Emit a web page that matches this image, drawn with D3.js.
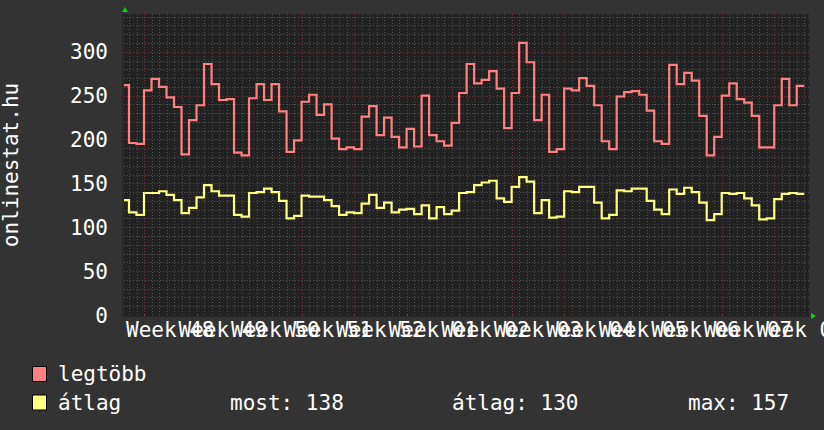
<!DOCTYPE html>
<html>
<head>
<meta charset="utf-8">
<script src="https://cdn.jsdelivr.net/npm/d3@7"></script>
<style>
  body { margin: 0; background: #333333; }
  text { font-family: "DejaVu Sans Mono", monospace; fill: #ffffff; }
</style>
</head>
<body>
<div class="chart"></div>
<script>
// daily values, first day = 2016-11-25 (UTC)
const firstDay = new Date(Date.UTC(2016, 10, 25))
const legtobb = [262,196,195,256,269,260,248,237,183,222,239,286,263,245,246,185,182,247,263,245,
  263,232,186,199,243,251,228,240,201,189,191,189,226,238,205,225,203,191,212,192,
  250,205,198,193,219,253,286,264,268,278,258,213,253,310,288,222,251,186,189,258,
  256,270,261,239,198,189,249,254,255,251,233,198,195,285,263,276,267,227,182,203,
  250,264,246,242,227,191,191,239,269,239,261]
const atlag = [131,117,114,139,139,141,137,131,116,122,134,148,141,136,136,114,112,139,140,144,
  140,130,110,113,136,135,135,131,124,114,117,116,127,137,122,128,117,120,121,115,
  125,110,123,115,119,139,140,148,151,153,133,129,146,157,152,116,131,111,112,141,
  140,146,146,128,110,114,142,141,144,144,130,120,115,143,138,145,140,128,108,115,
  139,138,139,133,125,109,110,132,138,139,138]
const yTicks = [0, 50, 100, 150, 200, 250, 300]
const seriesNames = ["legtöbb", "átlag"]
const colors = {"legtöbb": "#ff8080", "átlag": "#ffff80"}
const yLabel = "onlinestat.hu"

const W = 824, H = 430
const plot = {left: 124, right: 809, top: 14, bottom: 315}

const svg = d3.select(".chart").selectAll("svg").data([0]).join("svg")
  .attr("width", W).attr("height", H)

svg.append("rect").attr("width", W).attr("height", H).attr("fill", "#333333")
svg.append("rect")
  .attr("x", plot.left).attr("y", plot.top)
  .attr("width", plot.right - plot.left).attr("height", plot.bottom - plot.top + 1)
  .attr("fill", "#222222")

// scales
const tStart = new Date(Date.UTC(2016, 10, 25, 8, 0))
const tEnd = new Date(Date.UTC(2017, 1, 24, 15, 10))
const xScale = d3.scaleUtc().domain([tStart, tEnd]).range([plot.left, plot.right])
const yScale = d3.scaleLinear().domain([0, 343]).range([plot.bottom, plot.top])

// grid
const grid = svg.append("g").attr("class", "grid")
grid.selectAll(".hminor").data(d3.range(0, 341, 10).filter(v => v % 50 !== 0)).join("line")
  .attr("x1", plot.left).attr("x2", plot.right)
  .attr("y1", d => Math.round(yScale(d)) + 0.5).attr("y2", d => Math.round(yScale(d)) + 0.5)
  .attr("stroke", "#555555").attr("stroke-dasharray", "1,2")
grid.selectAll(".vminor").data(xScale.ticks(d3.utcDay.every(1)).filter(d => d.getUTCDay() !== 1)).join("line")
  .attr("x1", d => Math.round(xScale(d)) + 0.5).attr("x2", d => Math.round(xScale(d)) + 0.5)
  .attr("y1", plot.top).attr("y2", plot.bottom)
  .attr("stroke", "#555555").attr("stroke-dasharray", "1,2")
grid.selectAll(".hmajor").data(yTicks.filter(v => v > 0)).join("line")
  .attr("x1", plot.left).attr("x2", plot.right)
  .attr("y1", d => Math.round(yScale(d)) + 0.5).attr("y2", d => Math.round(yScale(d)) + 0.5)
  .attr("stroke", "#7a3a3a").attr("stroke-dasharray", "1,2")
const mondays = xScale.ticks(d3.utcMonday.every(1))
grid.selectAll(".vmajor").data(mondays).join("line")
  .attr("x1", d => Math.round(xScale(d)) + 0.5).attr("x2", d => Math.round(xScale(d)) + 0.5)
  .attr("y1", plot.top).attr("y2", plot.bottom)
  .attr("stroke", "#7a3a3a").attr("stroke-dasharray", "1,2")
grid.selectAll(".vtick").data(mondays).join("line")
  .attr("x1", d => Math.round(xScale(d)) + 0.5).attr("x2", d => Math.round(xScale(d)) + 0.5)
  .attr("y1", plot.bottom - 1).attr("y2", plot.bottom + 2)
  .attr("stroke", "#a03c3c")

// axes lines and arrows
svg.append("line").attr("x1", plot.left - 1).attr("x2", plot.left - 1)
  .attr("y1", plot.top - 2).attr("y2", plot.bottom + 1)
  .attr("stroke", "#2a2a2a").attr("stroke-width", 2)
svg.append("line").attr("x1", plot.left - 2).attr("x2", plot.right + 2)
  .attr("y1", plot.bottom + 1.5).attr("y2", plot.bottom + 1.5)
  .attr("stroke", "#2a2a2a").attr("stroke-width", 1)
svg.append("path")
  .attr("d", `M${plot.left - 2},${plot.top - 2} L${plot.left + 4},${plot.top - 2} L${plot.left + 1},${plot.top - 7} Z`)
  .attr("fill", "#00dd00")
svg.append("path")
  .attr("d", `M${plot.right + 2},${plot.bottom - 2} L${plot.right + 2},${plot.bottom + 4} L${plot.right + 7},${plot.bottom + 1} Z`)
  .attr("fill", "#00dd00")

// y tick labels
svg.selectAll(".ylab").data(yTicks).join("text")
  .attr("class", "ylab")
  .attr("x", 108).attr("y", d => yScale(d) + 7.5)
  .attr("text-anchor", "end").attr("font-size", 21)
  .text(d => d)

// week labels centered mid-week
const fmtWeek = d3.utcFormat("Week %V")
const weekStarts = d3.utcMonday.range(d3.utcDay.offset(tStart, -7), tEnd)
  .filter(d => {
    const c = xScale(d3.utcHour.offset(d, 84))
    return c >= plot.left && c <= plot.right
  })
svg.selectAll(".xlab").data(weekStarts).join("text")
  .attr("class", "xlab")
  .attr("x", d => xScale(d3.utcHour.offset(d, 84)))
  .attr("y", 337)
  .attr("text-anchor", "middle").attr("font-size", 21)
  .attr("xml:space", "preserve")
  .text(d => fmtWeek(d))

// y axis title
svg.append("text")
  .attr("transform", "translate(18,165) rotate(-90)")
  .attr("text-anchor", "middle").attr("font-size", 21)
  .text(yLabel)

// lines
svg.append("clipPath").attr("id", "plotclip").append("rect")
  .attr("x", plot.left).attr("y", plot.top - 2)
  .attr("width", plot.right - plot.left).attr("height", plot.bottom - plot.top + 4)

function toPoints(values) {
  const pts = values.map((v, i) => ({t: d3.utcDay.offset(firstDay, i), v: v}))
  pts.push({t: d3.utcDay.offset(firstDay, values.length), v: values[values.length - 1]})
  return pts
}
const lineGen = d3.line()
  .x(d => xScale(d.t))
  .y(d => yScale(d.v))
  .curve(d3.curveStepAfter)

const series = [{name: "legtöbb", values: legtobb}, {name: "átlag", values: atlag}]
svg.append("g").attr("clip-path", "url(#plotclip)")
  .selectAll(".series").data(series).join("path")
  .attr("class", "series")
  .attr("d", d => lineGen(toPoints(d.values)))
  .attr("fill", "none")
  .attr("stroke", d => colors[d.name])
  .attr("stroke-width", 2.2)
  .attr("stroke-linejoin", "miter")

// legend
const legend = svg.append("g").attr("class", "legend")
legend.selectAll("rect").data(seriesNames).join("rect")
  .attr("x", 32.5).attr("y", (d, i) => 366.5 + i * 28.5)
  .attr("width", 14).attr("height", 15)
  .attr("fill", d => colors[d]).attr("stroke", "#000000")
legend.selectAll("text").data(seriesNames).join("text")
  .attr("x", 58).attr("y", (d, i) => 381 + i * 28.5)
  .attr("font-size", 21)
  .text(d => d)

const stats = [
  {label: "most: ", value: atlag[atlag.length - 1], x: 230},
  {label: "átlag: ", value: d3.mean(atlag), x: 452},
  {label: "max: ", value: d3.max(atlag), x: 688}
]
svg.selectAll(".stat").data(stats).join("text")
  .attr("class", "stat")
  .attr("x", d => d.x).attr("y", 409.5)
  .attr("font-size", 21)
  .attr("xml:space", "preserve")
  .text(d => d.label + d3.format(".0f")(d.value))
</script>
</body>
</html>
